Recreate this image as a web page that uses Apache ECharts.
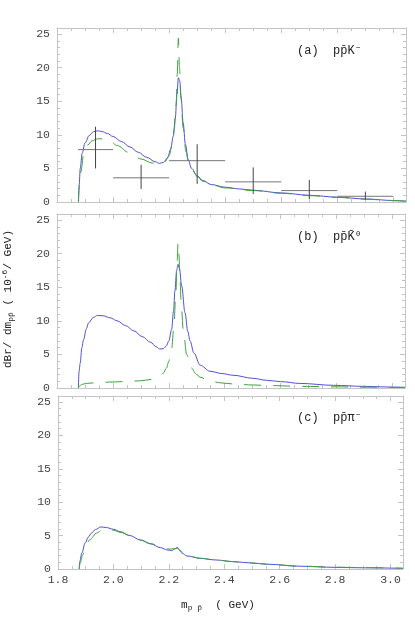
<!DOCTYPE html>
<html>
<head>
<meta charset="utf-8">
<script src="https://cdn.jsdelivr.net/npm/echarts@6/dist/echarts.min.js"></script>
<style>
  html, body { margin: 0; padding: 0; background: #fff; }
  #chart { width: 415px; height: 623px; }
</style>
</head>
<body>
<div id="chart"></div>
<script>
// x ticks (GeV) and y ticks (10^-6 / GeV)
const xTicks = [1.8, 2.0, 2.2, 2.4, 2.6, 2.8, 3.0];
const yTicks = [0, 5, 10, 15, 20, 25];

// (a) p pbar K-  : [m, dBr/dm]
const blueA = [[1.8765,0],[1.879,2.5],[1.883,5],[1.89,7.3],[1.90,8.8],[1.915,9.9],[1.93,10.45],[1.945,10.6],[1.96,10.5],[1.98,10.2],[2.0,9.75],[2.03,9.0],[2.06,8.2],[2.09,7.4],[2.12,6.65],[2.15,6.0],[2.165,5.75],[2.18,5.9],[2.195,6.6],[2.205,7.8],[2.215,9.8],[2.222,12.5],[2.228,16],[2.233,18.5],[2.238,18],[2.243,15.5],[2.25,11.8],[2.258,8.6],[2.268,6.3],[2.28,5.0],[2.30,3.9],[2.32,3.2],[2.35,2.6],[2.4,2.2],[2.45,1.95],[2.5,1.75],[2.6,1.35],[2.7,1.0],[2.8,0.72],[2.9,0.45],[3.0,0.22],[3.045,0.12]];
const greenA = [[1.8765,0],[1.88,2.5],[1.885,4.5],[1.895,7.0],[1.91,8.5],[1.925,9.1],[1.945,9.4],[1.965,9.4],[1.99,9.0],[2.015,8.4],[2.055,7.4],[2.1,6.4],[2.14,5.8],[2.165,5.6],[2.185,6.0],[2.2,6.9],[2.21,8.4],[2.218,10.8],[2.225,14.5],[2.229,19],[2.233,24.4],[2.237,20],[2.242,15.5],[2.25,11],[2.26,7.5],[2.27,5.8],[2.285,4.6],[2.30,3.8],[2.32,3.1],[2.35,2.55],[2.4,2.1],[2.5,1.7],[2.6,1.3],[2.7,0.95],[2.8,0.68],[2.9,0.42],[3.0,0.2],[3.045,0.12]];
// data points: centre, value, bin low, bin high, err low, err high
const dataMass = [1.9375, 2.1, 2.3, 2.5, 2.7, 2.9];
const dataVal  = [7.8, 3.6, 6.15, 3.0, 1.7, 0.85];
const binLo    = [1.875, 2.0, 2.2, 2.4, 2.6, 2.8];
const binHi    = [2.0, 2.2, 2.4, 2.6, 2.8, 3.0];
const errLo    = [5.0, 1.95, 2.7, 1.2, 0.45, 0.35];
const errHi    = [11.2, 5.55, 8.6, 5.15, 3.3, 1.55];

// (b) p pbar K0bar
const blueB = [[1.8765,0],[1.879,2.5],[1.883,3.7],[1.889,6],[1.895,7.2],[1.905,8.8],[1.913,9.7],[1.93,10.5],[1.945,10.8],[1.965,10.75],[1.99,10.45],[2.015,10.0],[2.045,9.3],[2.075,8.5],[2.105,7.65],[2.135,6.8],[2.155,6.15],[2.167,5.8],[2.18,5.85],[2.19,6.2],[2.2,7.0],[2.21,8.7],[2.217,11.5],[2.222,14.5],[2.228,17.5],[2.233,18.4],[2.238,17.8],[2.246,15.2],[2.258,11.2],[2.268,8.4],[2.276,7.0],[2.29,5.2],[2.312,3.4],[2.347,2.5],[2.39,2.15],[2.43,1.9],[2.5,1.45],[2.55,1.15],[2.6,0.95],[2.67,0.68],[2.79,0.4],[2.9,0.24],[3.0,0.13],[3.045,0.1]];
const greenB = [[1.8765,0],[1.88,0.3],[1.89,0.55],[1.91,0.7],[1.95,0.8],[2.0,0.9],[2.05,0.97],[2.1,1.08],[2.14,1.3],[2.165,1.7],[2.18,2.2],[2.192,3.0],[2.2,4.0],[2.21,5.8],[2.218,9],[2.225,14],[2.23,19],[2.233,21.6],[2.236,20],[2.24,16],[2.245,12],[2.252,8.5],[2.264,5.0],[2.28,3.0],[2.3,2.0],[2.312,1.6],[2.347,1.0],[2.39,0.75],[2.43,0.6],[2.5,0.45],[2.55,0.38],[2.67,0.25],[2.8,0.17],[2.9,0.12],[3.045,0.08]];

// (c) p pbar pi-
const blueC = [[1.8765,0],[1.879,1.2],[1.886,2.4],[1.898,3.9],[1.91,4.8],[1.92,5.35],[1.935,5.9],[1.955,6.3],[1.975,6.2],[2.0,5.95],[2.024,5.6],[2.06,5.0],[2.097,4.35],[2.135,3.75],[2.169,3.2],[2.195,2.85],[2.21,2.75],[2.222,3.0],[2.23,3.25],[2.238,2.9],[2.247,2.4],[2.265,1.95],[2.313,1.6],[2.37,1.35],[2.433,1.1],[2.5,0.9],[2.553,0.72],[2.673,0.42],[2.8,0.25],[2.9,0.18],[3.045,0.1]];
const greenC = [[1.8765,0],[1.88,0.9],[1.888,2.0],[1.898,3.2],[1.915,4.4],[1.94,5.4],[1.96,5.85],[1.98,5.95],[2.0,5.8],[2.024,5.5],[2.06,5.0],[2.097,4.35],[2.135,3.8],[2.169,3.3],[2.195,3.0],[2.21,3.0],[2.222,3.05],[2.232,3.1],[2.245,2.6],[2.265,2.05],[2.313,1.6],[2.37,1.35],[2.433,1.1],[2.5,0.9],[2.553,0.72],[2.673,0.42],[2.8,0.27],[2.9,0.2],[3.045,0.12]];

const FONT = '"Liberation Mono", "DejaVu Sans Mono", monospace';
const frameColor = '#c4c4c4';
const blue = '#5050d4';
const green = '#3da23d';

const grids = [
  { left: 57, top: 28, width: 349, height: 174 },
  { left: 57, top: 214, width: 348, height: 174 },
  { left: 58, top: 396, width: 345, height: 173 }
];

function xFmt(v) {
  return xTicks.some(t => Math.abs(t - v) < 1e-6) ? v.toFixed(1) : '';
}
function yFmt(v) {
  return yTicks.some(t => Math.abs(t - v) < 1e-6) ? String(Math.round(v)) : '';
}

let xAxes = [], yAxes = [];
grids.forEach((g, i) => {
  ['bottom', 'top'].forEach(pos => {
    xAxes.push({
      gridIndex: i, type: 'value', position: pos,
      min: 1.8, max: 3.045, interval: 0.2,
      axisLine: { show: true, onZero: false, lineStyle: { color: frameColor, width: 1 } },
      axisTick: { show: true, inside: true, length: 5, lineStyle: { color: frameColor } },
      minorTick: { show: true, splitNumber: 4, length: 3, lineStyle: { color: frameColor } },
      splitLine: { show: false },
      axisLabel: {
        show: pos === 'bottom' && i === 2, formatter: xFmt,
        color: '#444', fontFamily: FONT, fontSize: 11.5, margin: 5,
        showMaxLabel: false
      }
    });
  });
  ['left', 'right'].forEach(pos => {
    yAxes.push({
      gridIndex: i, type: 'value', position: pos,
      min: 0, max: 25.9, interval: 5,
      axisLine: { show: true, onZero: false, lineStyle: { color: frameColor, width: 1 } },
      axisTick: { show: true, inside: true, length: 5, lineStyle: { color: frameColor } },
      minorTick: { show: true, splitNumber: 5, length: 3, lineStyle: { color: frameColor } },
      splitLine: { show: false },
      axisLabel: {
        show: pos === 'left', formatter: yFmt,
        color: '#444', fontFamily: FONT, fontSize: 11.5, margin: 7,
        showMaxLabel: false
      }
    });
  });
});

function curve(data, i, color, dashed) {
  return {
    type: 'line', xAxisIndex: i * 2, yAxisIndex: i * 2,
    data: data, showSymbol: false, smooth: 0.35, smoothMonotone: 'x',
    lineStyle: { color: color, width: 1, type: dashed ? [17, 12] : 'solid' },
    animation: false, z: dashed ? 3 : 2
  };
}

const errData = dataMass.map((m, k) => [m, dataVal[k], binLo[k], binHi[k], errLo[k], errHi[k]]);

const option = {
  animation: false,
  backgroundColor: '#fff',
  grid: grids.map(g => Object.assign({ outerBoundsMode: 'none', containLabel: false }, g)),
  xAxis: xAxes,
  yAxis: yAxes,
  series: [
    curve(blueA, 0, blue, false),
    curve(greenA, 0, green, true),
    {
      type: 'custom', xAxisIndex: 0, yAxisIndex: 0,
      data: errData,
      encode: { x: [0, 2, 3], y: [1, 4, 5] },
      renderItem: function (params, api) {
        const c = api.coord([api.value(0), api.value(1)]);
        const l = api.coord([api.value(2), api.value(1)]);
        const r = api.coord([api.value(3), api.value(1)]);
        const lo = api.coord([api.value(0), api.value(4)]);
        const hi = api.coord([api.value(0), api.value(5)]);
        return {
          type: 'group',
          children: [
            { type: 'line', shape: { x1: l[0], y1: c[1], x2: r[0], y2: c[1] }, style: { stroke: '#777', lineWidth: 1 } },
            { type: 'line', shape: { x1: c[0], y1: lo[1], x2: c[0], y2: hi[1] }, style: { stroke: '#444', lineWidth: 1 } }
          ]
        };
      },
      z: 4
    },
    curve(blueB, 1, blue, false),
    curve(greenB, 1, green, true),
    curve(blueC, 2, blue, false),
    curve(greenC, 2, green, true)
  ],
  graphic: [
    { type: 'text', left: 297, top: 45, style: { text: '(a)  pp\u0304K\u207B', font: '12px ' + FONT, fill: '#222' } },
    { type: 'text', left: 297, top: 231, style: { text: '(b)  pp\u0304K\u0304\u2070', font: '12px ' + FONT, fill: '#222' } },
    { type: 'text', left: 297, top: 412, style: { text: '(c)  pp\u0304\u03C0\u207B', font: '12px ' + FONT, fill: '#222' } },
    {
      type: 'text', x: 8, y: 299, rotation: Math.PI / 2,
      style: {
        text: '{n|dBr/ dm}{s|pp\u0304}{n| ( 10}{u|-6}{n|/ GeV)}',
        align: 'center', verticalAlign: 'middle',
        rich: {
          n: { font: '11px ' + FONT, fill: '#222' },
          s: { font: '8px ' + FONT, fill: '#222', padding: [6, 0, 0, 0] },
          u: { font: '8px ' + FONT, fill: '#222', padding: [0, 0, 6, 0] }
        }
      }
    },
    {
      type: 'text', x: 218, y: 605,
      style: {
        text: '{n|m}{s|p p\u0304}{n|  ( GeV)}',
        align: 'center', verticalAlign: 'middle',
        rich: {
          n: { font: '11px ' + FONT, fill: '#222' },
          s: { font: '8px ' + FONT, fill: '#222', padding: [6, 0, 0, 0] }
        }
      }
    }
  ]
};

const chart = echarts.init(document.getElementById('chart'));
chart.setOption(option);
</script>
</body>
</html>
